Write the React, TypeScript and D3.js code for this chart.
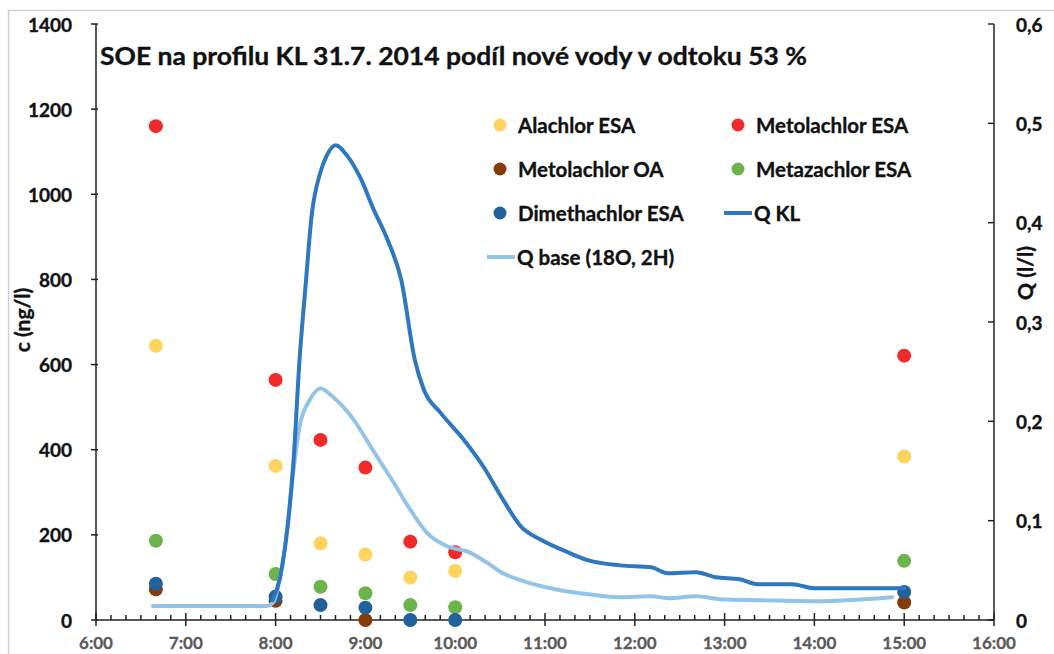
import React from 'react';
import * as d3 from 'd3';

const W = 1054;
const H = 654;

const titleText = 'SOE na profilu KL 31.7. 2014 podíl nové vody v odtoku 53 %';

// sample times of the concentration measurements
const sampleTimes = ['6:40', '8:00', '8:30', '9:00', '9:30', '10:00', '15:00'];
const alachlorESA: (number | null)[] = [644, 362, 180, 154, 100, 115, 384];
const metolachlorESA: (number | null)[] = [1160, 564, 423, 358, 184, 159, 621];
const metolachlorOA: (number | null)[] = [72, 45, null, 0, null, null, 41];
const metazachlorESA: (number | null)[] = [186, 108, 78, 63, 35, 30, 139];
const dimethachlorESA: (number | null)[] = [85, 55, 35, 29, 0, 0, 66];

// discharge Q KL (l/l)
const qklTimes = ['7:58', '8:03', '8:08', '8:12', '8:16', '8:20', '8:24', '8:30', '8:34', '8:40', '8:48', '8:57', '9:05', '9:15', '9:24', '9:33', '9:39', '9:50', '10:06', '10:19', '10:32', '10:44', '10:57', '11:14', '11:29', '11:50', '12:11', '12:22', '12:41', '12:54', '13:10', '13:22', '13:45', '14:00', '15:00'];
const qklValues = [0.020, 0.043, 0.094, 0.161, 0.262, 0.336, 0.406, 0.451, 0.467, 0.478, 0.467, 0.444, 0.415, 0.382, 0.342, 0.262, 0.232, 0.209, 0.181, 0.154, 0.121, 0.094, 0.081, 0.069, 0.060, 0.055, 0.053, 0.047, 0.048, 0.043, 0.041, 0.036, 0.036, 0.032, 0.032];

// base flow Q base (18O, 2H)
const qbaseTimes = ['6:38', '7:54', '7:58', '8:03', '8:08', '8:12', '8:16', '8:23', '8:30', '8:38', '8:52', '9:05', '9:19', '9:30', '9:41', '9:55', '10:08', '10:22', '10:32', '10:44', '11:07', '11:29', '11:50', '12:11', '12:22', '12:41', '12:57', '13:24', '14:00', '14:52'];
const qbaseValues = [0.014, 0.014, 0.017, 0.043, 0.094, 0.151, 0.195, 0.222, 0.233, 0.225, 0.202, 0.171, 0.138, 0.111, 0.088, 0.074, 0.069, 0.057, 0.047, 0.040, 0.031, 0.026, 0.023, 0.024, 0.022, 0.024, 0.021, 0.020, 0.019, 0.023];

const xTickLabels = ['6:00', '7:00', '8:00', '9:00', '10:00', '11:00', '12:00', '13:00', '14:00', '15:00', '16:00'];
const leftTicks = [0, 200, 400, 600, 800, 1000, 1200, 1400];
const rightTicks = [0, 0.1, 0.2, 0.3, 0.4, 0.5, 0.6];

const FONT = 'Lato, "Open Sans", sans-serif';

const parseT = (s: string) => {
  const [h, m] = s.split(':').map(Number);
  return h + m / 60;
};

const x = d3.scaleLinear().domain([6, 16]).range([96, 994]);
const yL = d3.scaleLinear().domain([0, 1400]).range([620, 24]);
const yR = d3.scaleLinear().domain([0, 0.6]).range([620, 24]);

const pointSeries = [
  { name: 'Alachlor ESA', color: '#FFD45E', values: alachlorESA },
  { name: 'Metolachlor ESA', color: '#EE2A2A', values: metolachlorESA },
  { name: 'Metolachlor OA', color: '#843C0C', values: metolachlorOA },
  { name: 'Metazachlor ESA', color: '#6DB34B', values: metazachlorESA },
  { name: 'Dimethachlor ESA', color: '#22619A', values: dimethachlorESA },
];

const QKL_COLOR = '#2E78C0';
const QBASE_COLOR = '#94C3E8';

export default function App() {
  const line = d3
    .line<[number, number]>()
    .x((d) => x(d[0]))
    .y((d) => yR(d[1]))
    .curve(d3.curveMonotoneX);

  const qklPath = line(qklTimes.map((t, i) => [parseT(t), qklValues[i]]));
  const qbasePath = line(qbaseTimes.map((t, i) => [parseT(t), qbaseValues[i]]));

  const minorTicks = d3.range(6, 16, 1 / 6).filter((v) => Math.abs(v - Math.round(v)) > 1e-6);

  const legendItems = [
    { label: 'Alachlor ESA', kind: 'dot', color: pointSeries[0].color, lx: 500, ly: 125 },
    { label: 'Metolachlor ESA', kind: 'dot', color: pointSeries[1].color, lx: 738, ly: 125 },
    { label: 'Metolachlor OA', kind: 'dot', color: pointSeries[2].color, lx: 500, ly: 169 },
    { label: 'Metazachlor ESA', kind: 'dot', color: pointSeries[3].color, lx: 738, ly: 169 },
    { label: 'Dimethachlor ESA', kind: 'dot', color: pointSeries[4].color, lx: 500, ly: 213 },
    { label: 'Q KL', kind: 'line', color: QKL_COLOR, lx: 738, ly: 213 },
    { label: 'Q base (18O, 2H)', kind: 'line', color: QBASE_COLOR, lx: 501, ly: 257 },
  ];

  const heavy = { stroke: '#111', strokeWidth: 0.35 };

  return (
    <svg
      width={W}
      height={H}
      style={{ position: 'absolute', left: 0, top: 0, background: '#fff' }}
      fontFamily={FONT}
    >
      <rect x={0} y={0} width={W} height={H} fill="#fff" />
      <rect x={8.5} y={10.5} width={1200} height={800} fill="none" stroke="#D0D0D0" strokeWidth={1.5} />

      {/* axes */}
      <g stroke="#222" strokeWidth={1.5}>
        <line x1={x(6)} x2={x(6)} y1={yL(1400)} y2={yL(0)} />
        <line x1={x(16)} x2={x(16)} y1={yR(0.6)} y2={yR(0)} />
        <line x1={x(6)} x2={x(16)} y1={yL(0)} y2={yL(0)} />
        {leftTicks.map((v) => (
          <line key={'lt' + v} x1={x(6) - 5} x2={x(6) + 2} y1={yL(v)} y2={yL(v)} />
        ))}
        {rightTicks.map((v) => (
          <line key={'rt' + v} x1={x(16) - 6} x2={x(16)} y1={yR(v)} y2={yR(v)} />
        ))}
        {xTickLabels.map((l) => (
          <line key={'xt' + l} x1={x(parseT(l))} x2={x(parseT(l))} y1={yL(0) - 7} y2={yL(0) + 6} />
        ))}
        {minorTicks.map((v, i) => (
          <line key={'mt' + i} x1={x(v)} x2={x(v)} y1={yL(0) - 5} y2={yL(0)} />
        ))}
      </g>

      {/* tick labels */}
      <g fontWeight={700} fontSize={19} fill="#111" {...heavy}>
        {leftTicks.map((v) => (
          <text key={'ll' + v} x={72} y={yL(v)} textAnchor="end" dominantBaseline="central">
            {v}
          </text>
        ))}
        {rightTicks.map((v) => (
          <text key={'rl' + v} x={1016} y={yR(v)} textAnchor="start" dominantBaseline="central">
            {v === 0 ? '0' : d3.format('.1f')(v).replace('.', ',')}
          </text>
        ))}
      </g>
      <g fontWeight={700} fontSize={17} fill="#5A5A5A" stroke="#5A5A5A" strokeWidth={0.3}>
        {xTickLabels.map((l) => (
          <text key={'xl' + l} x={x(parseT(l))} y={649} textAnchor="middle">
            {l}
          </text>
        ))}
      </g>

      {/* axis titles */}
      <text
        transform={`translate(30,320) rotate(-90)`}
        textAnchor="middle"
        fontWeight={700}
        fontSize={21}
        fill="#111"
        {...heavy}
      >
        c (ng/l)
      </text>
      <text
        transform={`translate(1033,273) rotate(-90)`}
        textAnchor="middle"
        fontWeight={700}
        fontSize={21}
        fill="#111"
        {...heavy}
      >
        Q (l/l)
      </text>

      {/* points */}
      {pointSeries.map((s) => (
        <g key={s.name} fill={s.color}>
          {s.values.map((v, i) =>
            v == null ? null : <circle key={i} cx={x(parseT(sampleTimes[i]))} cy={yL(v)} r={7} />
          )}
        </g>
      ))}

      {/* lines */}
      <path d={qbasePath || ''} fill="none" stroke={QBASE_COLOR} strokeWidth={4} strokeLinejoin="round" strokeLinecap="round" />
      <path d={qklPath || ''} fill="none" stroke={QKL_COLOR} strokeWidth={4} strokeLinejoin="round" strokeLinecap="round" />

      {/* title */}
      <text x={100} y={65} fontWeight={700} fontSize={25} fill="#111" textLength={707} lengthAdjust="spacingAndGlyphs" {...heavy}>
        {titleText}
      </text>

      {/* legend */}
      {legendItems.map((it) => (
        <g key={it.label}>
          {it.kind === 'dot' ? (
            <circle cx={it.lx} cy={it.ly} r={6.5} fill={it.color} />
          ) : (
            <line x1={it.lx - 14} x2={it.lx + 14} y1={it.ly} y2={it.ly} stroke={it.color} strokeWidth={4} />
          )}
          <text
            x={it.kind === 'dot' ? it.lx + 18 : it.lx + 16}
            y={it.ly}
            dominantBaseline="central"
            fontWeight={700}
            fontSize={20.5}
            fill="#111"
            {...heavy}
          >
            {it.label}
          </text>
        </g>
      ))}
    </svg>
  );
}
